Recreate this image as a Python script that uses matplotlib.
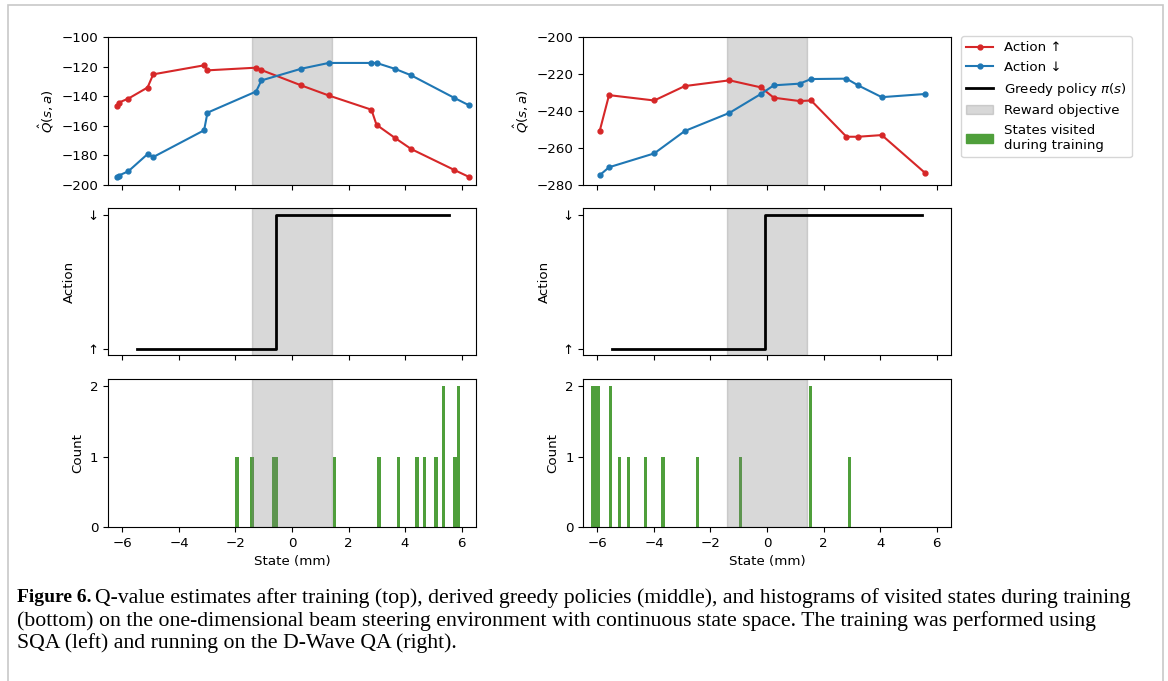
import matplotlib.pyplot as plt
import matplotlib.patches as mpatches
from matplotlib.lines import Line2D

plt.rcParams['font.size'] = 9.6

# Q-value estimates, SQA (left)
states_sqa = [-6.18, -6.13, -5.79, -5.11, -4.91, -3.11, -2.99, -1.27, -1.08,
              0.33, 1.30, 2.81, 2.99, 3.66, 4.22, 5.74, 6.26]
q_up_sqa = [-146.6, -144.3, -141.6, -134.1, -125.2, -119.1, -122.5, -120.7, -122.3,
            -132.7, -139.5, -149.1, -159.3, -168.4, -175.7, -189.8, -194.5]
q_down_sqa = [-194.3, -193.6, -190.7, -179.1, -181.1, -163.0, -151.1, -136.8, -129.3,
              -121.4, -117.5, -117.5, -117.5, -121.6, -125.9, -141.1, -146.1]

# Q-value estimates, D-Wave QA (right)
states_qa = [-5.92, -5.59, -3.99, -2.91, -1.33, -0.22, 0.24, 1.15, 1.56,
             2.81, 3.22, 4.06, 5.58]
q_up_qa = [-250.8, -231.4, -234.3, -226.5, -223.4, -227.2, -232.8, -234.6, -234.3,
           -253.9, -253.9, -253.0, -273.3]
q_down_qa = [-274.7, -270.4, -262.9, -250.8, -241.0, -230.8, -226.1, -225.2, -222.7,
             -222.5, -226.1, -232.5, -230.8]

# greedy policy (0 = up, 1 = down)
policy_x_sqa = [-5.5, -0.56, 5.55]
policy_x_qa = [-5.5, -0.08, 5.5]
policy_a = [0, 1, 1]

# visited states histogram
visited_sqa = [-1.95, -1.42, -0.65, -0.55, 1.5, 3.08, 3.77, 4.42, 4.68, 5.1, 5.35, 5.76, 5.88]
counts_sqa = [1, 1, 1, 1, 1, 1, 1, 1, 1, 1, 2, 1, 2]
visited_qa = [-6.15, -6.05, -5.96, -5.53, -5.21, -4.91, -4.3, -3.68, -2.46, -0.93, 1.54, 2.92]
counts_qa = [2, 2, 2, 2, 1, 1, 1, 1, 1, 1, 2, 1]

reward_lo, reward_hi = -1.42, 1.42
xticks = [-6, -4, -2, 0, 2, 4, 6]

red = '#d62728'
blue = '#1f77b4'
green = '#4f9f3b'

fig = plt.figure(figsize=(11.68, 6.81), dpi=100)

# light frame around the whole figure
fig.patches.append(mpatches.Rectangle((8 / 1168, -0.01), 1155 / 1168, 1 - 5 / 681 + 0.01,
                                      transform=fig.transFigure, fill=False,
                                      edgecolor='#c8c8c8', linewidth=1.2))

col_x = [0.0927, 0.4994]
w = 0.3146
rows = [(0.7283, 0.2173), (0.4783, 0.2159), (0.2261, 0.2169)]

columns = [
    (states_sqa, q_up_sqa, q_down_sqa, (-200, -100), range(-200, -99, 20),
     policy_x_sqa, visited_sqa, counts_sqa),
    (states_qa, q_up_qa, q_down_qa, (-280, -200), range(-280, -199, 20),
     policy_x_qa, visited_qa, counts_qa),
]

for cx, (st, qu, qd, ylim, yt, px, vs, vc) in zip(col_x, columns):
    ax1 = fig.add_axes([cx, rows[0][0], w, rows[0][1]])
    ax2 = fig.add_axes([cx, rows[1][0], w, rows[1][1]])
    ax3 = fig.add_axes([cx, rows[2][0], w, rows[2][1]])

    ax1.axvspan(reward_lo, reward_hi, color='gray', alpha=0.3)
    ax1.plot(st, qu, '-o', color=red, lw=1.5, ms=3.5)
    ax1.plot(st, qd, '-o', color=blue, lw=1.5, ms=3.5)
    ax1.set_ylim(*ylim)
    ax1.set_yticks(list(yt))
    ax1.set_ylabel(r'$\hat{Q}(s, a)$')

    ax2.axvspan(reward_lo, reward_hi, color='gray', alpha=0.3)
    ax2.plot(px, policy_a, color='black', lw=2, drawstyle='steps-post')
    ax2.set_yticks([0, 1], ['↑', '↓'])
    ax2.set_ylabel('Action', labelpad=8)

    ax3.bar(vs, vc, width=0.12, color=green)
    ax3.axvspan(reward_lo, reward_hi, color='gray', alpha=0.3)
    ax3.set_yticks([0, 1, 2])
    ax3.set_ylabel('Count')
    ax3.set_xlabel('State (mm)')

    for ax in (ax1, ax2, ax3):
        ax.set_xlim(-6.5, 6.5)
        ax.set_xticks(xticks)
    ax1.set_xticklabels([])
    ax2.set_xticklabels([])

handles = [
    Line2D([], [], color=red, marker='o', ms=3.5, lw=1.5, label='Action ↑'),
    Line2D([], [], color=blue, marker='o', ms=3.5, lw=1.5, label='Action ↓'),
    Line2D([], [], color='black', lw=2, label=r'Greedy policy $\pi(s)$'),
    mpatches.Patch(color='gray', alpha=0.3, label='Reward objective'),
    mpatches.Patch(color=green, label='States visited\nduring training'),
]
fig.legend(handles=handles, loc='upper left', bbox_to_anchor=(961 / 1168, 1 - 36 / 681),
           fontsize=9.6, borderaxespad=0)

# caption
cap_font = 'Liberation Serif'
lines = [
    'Q-value estimates after training (top), derived greedy policies (middle), and histograms of visited states during training',
    '(bottom) on the one-dimensional beam steering environment with continuous state space. The training was performed using',
    'SQA (left) and running on the D-Wave QA (right).',
]
x0 = 17 / 1168
ys = [598, 621, 643]
bold = fig.text(x0, 1 - ys[0] / 681, 'Figure 6.', family=cap_font, size=14,
                weight='bold', va='center')
r = fig.canvas.get_renderer()
bb = bold.get_window_extent(r)
fig.text((bb.x1 + 4) / 1168, 1 - ys[0] / 681, lines[0], family=cap_font, size=15.7, va='center')
for txt, y in zip(lines[1:], ys[1:]):
    fig.text(x0, 1 - y / 681, txt, family=cap_font, size=15.7, va='center')

fig.savefig('out.png', dpi=100)
